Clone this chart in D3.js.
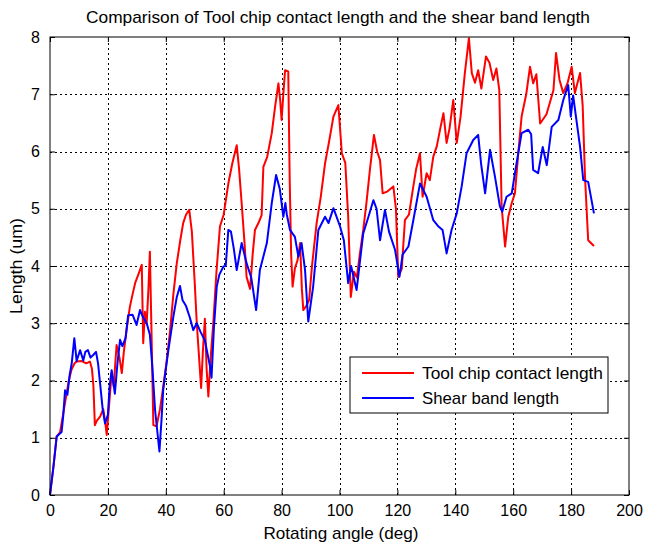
<!DOCTYPE html>
<html>
<head>
<meta charset="utf-8">
<script src="https://cdn.jsdelivr.net/npm/d3@7"></script>
<style>
  body { margin: 0; background: #fff; }
  text { font-family: "Liberation Sans", Arial, sans-serif; fill: #000; }
</style>
</head>
<body>
<script>
// Data
const toolAngle = [0, 1.2, 2.3, 3.5, 4.5, 5.5, 6.5, 7.5, 8.5, 9.2, 11, 12.5, 13.8, 14.5, 15, 15.5, 16.2, 17.3, 18.4, 19, 19.6,
  20.3, 21.3, 22, 23, 24, 24.8, 25.5, 26.5, 27.6, 28.5, 29.4, 30.5, 31.7, 32.2, 32.8, 33.4, 34, 34.5, 35, 35.7, 36.8,
  38, 39.1, 40.2, 41.5, 42.6, 43.8, 45, 46, 47, 48.1, 49, 50, 50.7, 51.5, 52.2, 52.8, 53.5, 54.1, 54.7, 55.5, 56.4,
  57.5, 58.7, 60, 61.6, 63, 64.5, 65.3, 66.2, 67.2, 67.9, 69.1, 70, 70.8, 72, 73.1, 73.7, 75, 76.6, 77.8, 78.9, 79.5,
  80, 80.6, 81.2, 82.3, 82.8, 83.3, 83.8, 84.6, 85.5, 86.4, 87, 87.5, 88.5, 89.5, 90.5, 92.1, 93.5, 95, 96.5, 97.9,
  99.6, 100.2, 100.8, 102, 103, 103.9, 105, 106, 107, 108.2, 109.3, 110.5, 111.9, 113, 114, 114.9, 116.5, 118.6,
  119.5, 120.3, 121.5, 122.6, 124, 125.5, 126.5, 127.8, 128.7, 130.1, 131.2, 132.4, 133.6, 134.8, 135.9, 137, 138,
  139.3, 140.5, 141.8, 143.3, 144.7, 145.7, 146.8, 147.9, 149, 150.6, 151.8, 153.1, 154.2, 155.2, 156, 157.2, 158.3,
  159.5, 160.6, 161.8, 162.9, 164.5, 165.8, 166.9, 168, 169.3, 171.5, 173.9, 174.8, 176, 177.3, 178.8, 180.2, 181.3,
  183.1, 184, 184.8, 185.9, 187.9];
const toolLength = [0, 0.5, 1.02, 1.1, 1.4, 1.7, 2.0, 2.2, 2.3, 2.33, 2.34, 2.3, 2.33, 2.2, 1.9, 1.22, 1.3, 1.37, 1.5, 1.3, 1.05,
  1.5, 2.13, 1.9, 2.62, 2.4, 2.13, 2.5, 2.9, 3.29, 3.5, 3.7, 3.85, 4.02, 2.65, 3.2, 3.0, 3.6, 4.25, 3.0, 1.22, 1.2,
  1.5, 1.89, 2.3, 2.88, 3.5, 4.05, 4.45, 4.75, 4.9, 4.98, 4.6, 3.7, 3.0, 2.4, 1.87, 2.5, 3.08, 2.2, 1.72, 2.4, 3.0,
  3.9, 4.69, 4.9, 5.44, 5.8, 6.11, 5.7, 5.1, 4.4, 3.81, 3.6, 4.2, 4.63, 4.75, 4.89, 5.73, 5.9, 6.32, 6.8, 7.19, 6.9,
  6.55, 7.0, 7.42, 7.4, 5.5, 4.2, 3.64, 3.96, 4.1, 4.4, 3.6, 3.23, 3.3, 3.4, 4.0, 4.75, 5.2, 5.79, 6.2, 6.61,
  6.81, 6.4, 5.97, 5.8, 4.86, 3.46, 3.9, 3.8, 4.2, 4.63, 5.1, 5.68, 6.29, 6.0, 5.85, 5.27, 5.3, 5.39,
  5.0, 3.81, 3.95, 4.8, 4.9, 5.39, 5.7, 5.97, 5.21, 5.62, 5.5, 5.91, 6.09, 6.4, 6.67, 6.15, 6.4,
  6.9, 6.15, 6.6, 7.37, 7.98, 7.37, 7.2, 7.42, 7.1, 7.66, 7.55, 7.25, 7.45, 7.07, 5.04, 4.34, 4.86,
  5.1, 5.27, 6.0, 6.61, 7.0, 7.48, 7.19, 7.35, 6.49, 6.65, 7.07, 7.72, 7.25, 7.02, 7.2, 7.48, 7.02,
  7.37, 6.8, 5.56, 4.45, 4.35];

const shearAngle = [0, 1.2, 2.3, 4, 4.6, 5.2, 6, 6.8, 7.5, 8.4, 9.2, 10.4, 11.5, 12.2, 13.1, 14, 15, 15.9, 16.6, 17.3, 18.2,
  19, 20, 20.6, 21.3, 22.4, 23.3, 24.2, 25, 26.1, 27, 28.5, 29.9, 31.1, 32.2, 33.4, 34.5, 35.4, 36.3, 37.8, 38.5,
  39.1, 40, 40.9, 42.6, 43.8, 44.9, 45.8, 47, 48.3, 49.5, 50.7, 52, 53.5, 55.3, 55.8, 56.6, 57.6, 58.5, 59.9, 60.7,
  61.6, 62.5, 63.5, 64.5, 66.2, 67.9, 69.5, 71.2, 72.5, 74.9, 76.6, 78.1, 79.4, 80.6, 81.3, 81.8, 82.9, 84.6, 85.8,
  86.9, 88.1, 89.2, 90.9, 92.7, 95, 96.2, 97.9, 100.2, 101.5, 103, 104, 105.9, 108.2, 110, 111.7, 112.8, 114, 115.7,
  117.1, 119.2, 120.7, 121.8, 123.8, 125.5, 127.8, 130.1, 132.4, 134, 135.6, 137, 138.7, 140.5, 142.2, 143.9, 146.2,
  147.9, 148.9, 150.3, 152, 153.7, 155.4, 156.2, 157.7, 159.5, 160.6, 162.9, 165.2, 166.2, 166.9, 168.6, 170.2,
  171.6, 173.3, 175.6, 177.3, 179, 179.9, 180.7, 181.7, 183.1, 184.2, 185.9, 187.9];
const shearLength = [0, 0.5, 1.02, 1.1, 1.4, 1.83, 1.75, 2.1, 2.3, 2.74, 2.34, 2.53, 2.35, 2.5, 2.53, 2.4, 2.45, 2.5, 2.3, 1.95, 1.5,
  1.25, 1.4, 1.9, 2.18, 1.77, 2.3, 2.71, 2.6, 2.74, 3.14, 3.15, 2.97, 3.23, 3.1, 3.0, 2.8, 2.2, 1.48, 0.76, 1.3,
  1.83, 2.2, 2.53, 3.11, 3.46, 3.65, 3.4, 3.3, 3.1, 2.88, 3.0, 2.85, 2.7, 2.24, 2.05, 2.9, 3.64, 3.85, 3.99, 4.0,
  4.63, 4.6, 4.3, 3.93, 4.4, 4.05, 3.8, 3.23, 3.93, 4.4, 5.1, 5.59, 5.34, 4.86, 5.1, 4.9, 4.63, 4.51, 4.16,
  4.4, 3.93, 3.03, 3.64, 4.63, 4.86, 4.75, 5.01, 4.69, 4.45, 3.7, 4.0, 3.58, 4.57, 4.86, 5.15, 5.0, 4.45, 4.98,
  4.6, 4.28, 3.81, 4.2, 4.34, 4.8, 5.44, 5.21, 4.8, 4.7, 4.63, 4.22, 4.63, 4.92, 5.39, 5.97, 6.2,
  6.29, 5.79, 5.27, 6.03, 5.56, 5.04, 4.95, 5.21, 5.27, 5.62, 6.32, 6.38, 6.3, 5.68, 5.62, 6.08,
  5.76, 6.43, 6.55, 6.9, 7.16, 6.61, 6.98, 6.6, 6.08, 5.5, 5.47, 4.92];

const xTicks = [0, 20, 40, 60, 80, 100, 120, 140, 160, 180, 200];
const yTicks = [0, 1, 2, 3, 4, 5, 6, 7, 8];
const seriesNames = ["Tool chip contact length", "Shear band length"];
const seriesColors = ["#ff0000", "#0000ff"];

const W = 646, H = 545;
const margin = { top: 37, right: 17, bottom: 50, left: 50 };

const svg = d3.select("body").append("svg")
  .attr("width", W)
  .attr("height", H);

const x = d3.scaleLinear().domain([0, 200]).range([margin.left, W - margin.right]);
const y = d3.scaleLinear().domain([0, 8]).range([H - margin.bottom, margin.top]);

// grid
const grid = svg.append("g")
  .attr("stroke", "#000")
  .attr("stroke-width", 1)
  .attr("stroke-dasharray", "2,3");
grid.selectAll(".gx").data(xTicks.slice(1, -1)).join("line")
  .attr("x1", d => Math.round(x(d)) + 0.5).attr("x2", d => Math.round(x(d)) + 0.5)
  .attr("y1", y(0)).attr("y2", y(8));
grid.selectAll(".gy").data(yTicks.slice(1, -1)).join("line")
  .attr("y1", d => Math.round(y(d)) + 0.5).attr("y2", d => Math.round(y(d)) + 0.5)
  .attr("x1", x(0)).attr("x2", x(200));

// axes, ticks inside like matlab
const tickLen = 5;
const bottomAxis = svg.append("g")
  .attr("transform", `translate(0,${y(0)})`)
  .call(d3.axisBottom(x).tickValues(xTicks).tickSizeInner(-tickLen).tickSizeOuter(0).tickPadding(10));
const topAxis = svg.append("g")
  .attr("transform", `translate(0,${y(8)})`)
  .call(d3.axisTop(x).tickValues(xTicks).tickSizeInner(-tickLen).tickSizeOuter(0).tickFormat(""));
const leftAxis = svg.append("g")
  .attr("transform", `translate(${x(0)},0)`)
  .call(d3.axisLeft(y).tickValues(yTicks).tickSizeInner(-tickLen).tickSizeOuter(0).tickPadding(10));
const rightAxis = svg.append("g")
  .attr("transform", `translate(${x(200)},0)`)
  .call(d3.axisRight(y).tickValues(yTicks).tickSizeInner(-tickLen).tickSizeOuter(0).tickFormat(""));

[bottomAxis, topAxis, leftAxis, rightAxis].forEach(a => {
  a.select(".domain").remove();
  a.selectAll("line").attr("stroke", "#000");
  a.selectAll("text").style("font-size", "16px").attr("fill", "#000")
    .style("font-family", "'Liberation Sans', Arial, sans-serif");
});

// series
const line = d3.line().x(d => x(d[0])).y(d => y(d[1]));
const toolData = toolAngle.map((a, i) => [a, toolLength[i]]);
const shearData = shearAngle.map((a, i) => [a, shearLength[i]]);

svg.append("path").datum(toolData)
  .attr("d", line).attr("fill", "none")
  .attr("stroke", seriesColors[0]).attr("stroke-width", 2).attr("stroke-linejoin", "round");
svg.append("path").datum(shearData)
  .attr("d", line).attr("fill", "none")
  .attr("stroke", seriesColors[1]).attr("stroke-width", 2).attr("stroke-linejoin", "round");

// box
svg.append("rect")
  .attr("x", x(0)).attr("y", y(8))
  .attr("width", x(200) - x(0)).attr("height", y(0) - y(8))
  .attr("fill", "none").attr("stroke", "#000").attr("stroke-width", 1);

// title + labels (text in the original is a bit condensed, so stretch to its width)
svg.append("text")
  .attr("x", 338).attr("y", 23)
  .attr("text-anchor", "middle")
  .attr("textLength", 504).attr("lengthAdjust", "spacingAndGlyphs")
  .style("font-size", "17px")
  .text("Comparison of Tool chip contact length and the shear band length");

svg.append("text")
  .attr("x", 341).attr("y", 539)
  .attr("text-anchor", "middle")
  .attr("textLength", 155).attr("lengthAdjust", "spacingAndGlyphs")
  .style("font-size", "17px")
  .text("Rotating angle (deg)");

svg.append("text")
  .attr("transform", `translate(22,${(y(0) + y(8)) / 2}) rotate(-90)`)
  .attr("text-anchor", "middle")
  .attr("textLength", 96).attr("lengthAdjust", "spacingAndGlyphs")
  .style("font-size", "17px")
  .text("Length (um)");

// legend
const leg = svg.append("g").attr("transform", "translate(350,357)");
leg.append("rect")
  .attr("width", 258).attr("height", 56)
  .attr("fill", "#fff").attr("stroke", "#000").attr("stroke-width", 1);
const legLens = [181, 137];
seriesNames.forEach((name, i) => {
  const ly = 16 + i * 25;
  leg.append("line")
    .attr("x1", 12).attr("x2", 64).attr("y1", ly).attr("y2", ly)
    .attr("stroke", seriesColors[i]).attr("stroke-width", 2);
  leg.append("text")
    .attr("x", 72).attr("y", ly + 6)
    .attr("textLength", legLens[i]).attr("lengthAdjust", "spacingAndGlyphs")
    .style("font-size", "17px")
    .text(name);
});
</script>
</body>
</html>
